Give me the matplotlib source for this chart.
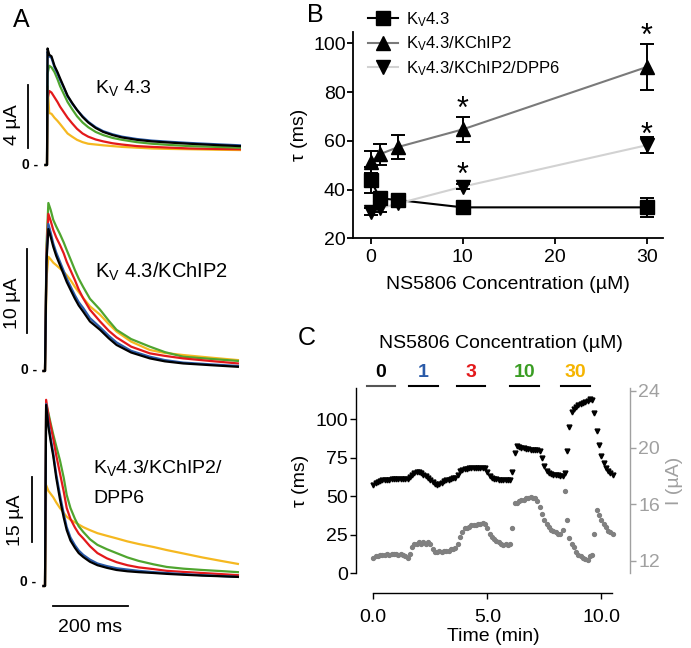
import numpy as np
import matplotlib.pyplot as plt
from matplotlib.lines import Line2D

plt.rcParams['font.family'] = ['Liberation Sans', 'DejaVu Sans']
plt.rcParams['mathtext.fontset'] = 'custom'
plt.rcParams['mathtext.rm'] = 'Liberation Sans'
plt.rcParams['mathtext.it'] = 'Liberation Sans:italic'

W, H = 691, 648

# ---- panel A: current traces (ms, uA) ----
col_black = '#000000'
col_blue = '#2a5aa8'
col_red = '#e3191b'
col_green = '#4fa52f'
col_yellow = '#f5b820'

a1_t = [-4, 0, 1.5, 6, 12, 20, 28, 35, 45, 55, 67, 80, 95, 110, 130, 150, 175, 200,
        240, 280, 330, 380, 450, 515]
a1_black = [0, 0, 7.4, 7.0, 6.9, 6.3, 5.9, 5.5, 4.95, 4.4, 3.95, 3.5, 3.05, 2.7, 2.35,
            2.1, 1.9, 1.75, 1.6, 1.5, 1.42, 1.35, 1.27, 1.2]
a1_blue = [0, 0, 7.2, 6.9, 6.8, 6.2, 5.8, 5.4, 4.9, 4.35, 3.9, 3.5, 3.1, 2.75, 2.4,
           2.15, 1.95, 1.8, 1.65, 1.55, 1.47, 1.4, 1.32, 1.25]
a1_green = [0, 0, 5.8, 6.3, 6.2, 5.9, 5.45, 5.0, 4.5, 4.0, 3.55, 3.1, 2.7, 2.4, 2.1,
            1.9, 1.72, 1.6, 1.45, 1.35, 1.27, 1.2, 1.15, 1.1]
a1_red = [0, 0, 4.2, 4.7, 4.6, 4.3, 4.0, 3.7, 3.35, 3.0, 2.65, 2.3, 2.0, 1.8, 1.62,
          1.5, 1.38, 1.3, 1.2, 1.15, 1.1, 1.05, 1.02, 1.0]
a1_yellow = [0, 0, 5.0, 3.3, 3.25, 3.0, 2.8, 2.6, 2.3, 2.0, 1.8, 1.6, 1.45, 1.35, 1.3,
             1.25, 1.2, 1.15, 1.1, 1.05, 1.02, 1.0, 0.97, 0.95]

a2_t = [-4, 0, 4, 9, 15, 22, 30, 40, 50, 58, 70, 80, 90, 102, 120, 147, 170, 191,
        230, 280, 320, 369, 440, 515]
a2_green = [0, 0, 15, 20.0, 19.2, 18.0, 17.2, 16.3, 15.3, 14.4, 13.1, 12.0, 11.0, 10.0,
            8.6, 7.3, 6.0, 4.9, 3.8, 2.9, 2.25, 1.7, 1.45, 1.2]
a2_red = [0, 0, 14, 18.7, 17.9, 16.8, 15.9, 15.0, 14.0, 13.0, 11.8, 10.8, 9.7, 8.65,
          7.3, 5.9, 4.8, 4.0, 2.9, 2.1, 1.8, 1.5, 1.2, 0.9]
a2_blue = [0, 0, 13.5, 17.5, 16.5, 15.2, 14.1, 13.0, 11.9, 11.0, 9.9, 9.0, 8.2, 7.5,
           6.3, 5.2, 4.2, 3.4, 2.4, 1.7, 1.3, 1.0, 0.8, 0.6]
a2_black = [0, 0, 13, 16.9, 16.0, 14.8, 13.7, 12.6, 11.5, 10.6, 9.5, 8.6, 7.8, 7.06,
            5.9, 4.9, 3.9, 3.1, 2.2, 1.5, 1.15, 0.9, 0.7, 0.5]
a2_yellow = [0, 0, 11, 13.6, 13.3, 12.9, 12.6, 12.2, 11.8, 11.4, 10.7, 10.0, 9.4, 8.7,
             7.7, 6.7, 5.6, 4.7, 3.5, 2.5, 2.15, 1.9, 1.6, 1.3]

a3_t = [-4, 0, 3, 9, 15, 22, 30, 40, 50, 58, 68, 80, 90, 102, 120, 140, 165, 191,
        220, 250, 290, 325, 370, 420, 470, 515]
a3_black = [0, 0, 41.8, 36.8, 33.5, 30, 25, 20, 15.8, 12.9, 10.5, 8.8, 7.6, 6.7, 5.6,
            4.8, 4.2, 3.7, 3.4, 3.2, 3.0, 2.8, 2.6, 2.4, 2.25, 2.1]
a3_blue = [0, 0, 42, 37.5, 34.2, 30.7, 25.8, 21, 16.7, 13.6, 11.2, 9.4, 8.2, 7.2, 6.1,
           5.2, 4.6, 4.1, 3.8, 3.5, 3.2, 3.0, 2.75, 2.5, 2.3, 2.1]
a3_red = [0, 0, 43, 39.5, 37, 34, 30.2, 26, 21.8, 18, 15.5, 13.5, 12.1, 11, 9.2, 7.6,
          6.4, 5.5, 4.8, 4.3, 3.9, 3.5, 3.25, 3.0, 2.75, 2.5]
a3_green = [0, 0, 42, 40, 37.6, 35, 32.3, 29, 25, 21, 18, 15.5, 13.8, 12.5, 10.8, 9.5,
            8.5, 7.6, 6.6, 5.8, 5.0, 4.4, 4.0, 3.7, 3.45, 3.2]
a3_yellow = [0, 0, 23.3, 22, 21.3, 20.5, 19.3, 18, 16.9, 16, 15.3, 14.7, 14.2, 13.6,
             12.9, 12.2, 11.6, 11, 10.3, 9.7, 9.0, 8.3, 7.5, 6.6, 5.8, 5.1]

# ---- panel B: tau vs NS5806 ----
conc = [0, 1, 3, 10, 30]
kv43_tau = [43.9, 36.4, 35.7, 32.7, 32.7]
kv43_err = [5.5, 1.5, 1.5, 0.8, 4.0]
kchip_tau = [51.4, 54.5, 57.5, 64.7, 90.3]
kchip_err = [4.5, 4.3, 5.0, 5.2, 9.6]
dpp6_tau = [30.9, 32.3, 34.3, 41.2, 58.2]
dpp6_err = [1.5, 1.5, 1.5, 1.0, 3.3]
star_x = [10, 30, 10, 30]
star_y = [72.6, 102.6, 45.8, 62.1]

# ---- panel C: time course ----
time_c = np.linspace(0, 10.5, 106)
tau_c = [57.5, 58.5, 59.2, 59.8, 60.2, 60.5, 60.7, 60.8, 60.9, 61.0,
         61.0, 61.0, 61.1, 61.0, 61.0, 61.2, 62.5, 64.0, 65.2, 65.8,
         65.6, 64.8, 63.8, 62.8, 61.9, 60.8, 59.5, 58.2, 57.3, 57.8,
         58.8, 59.7, 60.3, 60.8, 61.2, 61.5, 61.7, 63.5, 66.5, 67.3,
         67.6, 67.8, 68.0, 68.0, 68.2, 68.3, 68.4, 68.5, 68.6, 68.2,
         65.5, 63.2, 62.0, 61.4, 61.0, 60.8, 60.7, 60.6, 60.6, 60.6,
         60.7, 66.0, 77.9, 82.5, 81.8, 81.2, 81.0, 80.7, 80.5, 80.3,
         80.2, 80.0, 79.9, 79.5, 74.7, 69.5, 66.5, 65.2, 64.5, 64.0,
         63.7, 63.5, 63.3, 63.2, 65.0, 79.6, 95.0, 104.5, 106.5, 108.0,
         109.0, 109.8, 110.5, 111.2, 112.0, 112.8, 112.5, 104.0, 92.0, 83.0,
         76.0, 71.5, 68.5, 66.5, 64.8, 63.8]
cur_c = [12.2, 12.3, 12.3, 12.4, 12.4, 12.4, 12.5, 12.4, 12.5, 12.5,
         12.5, 12.4, 12.5, 12.4, 12.3, 12.2, 12.5, 13.0, 13.2, 13.2,
         13.3, 13.2, 13.3, 13.2, 13.3, 13.2, 12.8, 12.6, 12.6, 12.7,
         12.6, 12.7, 12.7, 12.7, 12.8, 12.8, 12.9, 13.2, 13.7, 14.0,
         14.3, 14.3, 14.4, 14.5, 14.5, 14.5, 14.6, 14.6, 14.7, 14.6,
         14.3, 13.9, 13.7, 13.5, 13.4, 13.3, 13.2, 13.1, 13.2, 13.1,
         13.2, 14.3, 16.1, 16.1, 16.2, 16.3, 16.3, 16.4, 16.4, 16.5,
         16.4, 16.4, 16.2, 15.8, 15.3, 14.9, 14.6, 14.4, 14.2, 14.1,
         14.0, 13.9, 13.9, 14.2, 16.9, 14.9, 13.6, 13.2, 12.95, 12.6,
         12.4, 12.3, 12.2, 12.1, 12.05, 12.3, 12.4, 13.9, 15.6, 15.2,
         14.9, 14.6, 14.4, 14.1, 14.0, 13.9]
conc_lab = ['0', '1', '3', '10', '30']
conc_start = [-0.29, 1.56, 3.66, 6.0, 8.23]
conc_end = [0.95, 2.82, 4.9, 7.27, 9.5]
conc_col = ['#000000', col_blue, col_red, '#3a9d23', '#f5b400']
bar_col = ['#555555', 'k', 'k', 'k', 'k']

fig = plt.figure(figsize=(W / 100, H / 100), dpi=100)


def px_axes(l, t, r, b):
    return fig.add_axes([l / W, 1 - b / H, (r - l) / W, (b - t) / H])


def ftext(x, y, s, **kw):
    fig.text(x / W, 1 - y / H, s, **kw)


MS_PX = 2.67  # ms per pixel in panel A


def trace_axes(box, zero, ua_px):
    l, t, r, b = box
    ax = px_axes(l, t, r, b)
    ax.set_xlim((l - zero[0]) * MS_PX, (r - zero[0]) * MS_PX)
    ax.set_ylim((zero[1] - b) / ua_px, (zero[1] - t) / ua_px)
    ax.axis('off')
    return ax


def draw_traces(ax, t, traces):
    for y, c in traces:
        ax.plot(t, y, color=c, lw=1.6, solid_joinstyle='round')


# A top
ax1 = trace_axes((0, 35, 250, 190), (47, 165), 15.75)
draw_traces(ax1, a1_t, [(a1_yellow, col_yellow), (a1_red, col_red), (a1_green, col_green),
                        (a1_blue, col_blue), (a1_black, col_black)])
ax1.plot([-50.7, -50.7], [1.08, 5.08], color='k', lw=1.3, clip_on=False)
ax1.text(-93, 2.54, '4 µA', rotation=90, ha='center', va='center', fontsize=14)
ax1.text(-24, 0, '0 -', ha='right', va='center', fontsize=10, fontweight='bold')
ax1.text(128, 4.9, r'K$_\mathrm{V}$ 4.3', ha='left', va='center', fontsize=14)

# A middle
ax2 = trace_axes((0, 195, 250, 385), (45, 371), 8.4)
draw_traces(ax2, a2_t, [(a2_yellow, col_yellow), (a2_green, col_green), (a2_red, col_red),
                        (a2_blue, col_blue), (a2_black, col_black)])
ax2.plot([-48, -48], [4.52, 14.52], color='k', lw=1.3, clip_on=False)
ax2.text(-88, 8.1, '10 µA', rotation=90, ha='center', va='center', fontsize=14)
ax2.text(-22, 0.1, '0 -', ha='right', va='center', fontsize=10, fontweight='bold')
ax2.text(133.5, 11.8, r'K$_\mathrm{V}$ 4.3/KChIP2', ha='left', va='center', fontsize=14.5)

# A bottom
ax3 = trace_axes((0, 390, 250, 645), (45, 586), 4.33)
draw_traces(ax3, a3_t, [(a3_yellow, col_yellow), (a3_green, col_green), (a3_red, col_red),
                        (a3_blue, col_blue), (a3_black, col_black)])
ax3.plot([-34.7, -34.7], [10.2, 25.2], color='k', lw=1.3, clip_on=False)
ax3.text(-80, 15.2, '15 µA', rotation=90, ha='center', va='center', fontsize=14)
ax3.text(-24, 0.9, '0 -', ha='right', va='center', fontsize=10, fontweight='bold')
ax3.plot([21.4, 221.6], [-4.6, -4.6], color='k', lw=1.3, clip_on=False)
ax3.text(120, -9.5, '200 ms', ha='center', va='center', fontsize=14)
ax3.text(128, 27.2, r'K$_\mathrm{V}$4.3/KChIP2/', ha='left', va='center', fontsize=14)
ax3.text(128, 20.3, 'DPP6', ha='left', va='center', fontsize=14)

# ---- B ----
axb = px_axes(352.7, 31.7, 663.3, 238.3)
axb.set_xlim(-1.96, 31.8)
axb.set_ylim(20, 104.8)
for s in ['top', 'right']:
    axb.spines[s].set_visible(False)
for s in ['left', 'bottom']:
    axb.spines[s].set_linewidth(1.3)
axb.tick_params(direction='out', length=4, width=1.3, labelsize=14, pad=1)
axb.tick_params(axis='x', pad=4)
axb.set_xticks([0, 10, 20, 30])
axb.set_yticks([20, 40, 60, 80, 100])

series = [
    (kv43_tau, kv43_err, 's', 'k', r'K$_\mathrm{V}$4.3'),
    (kchip_tau, kchip_err, '^', '#7a7a7a', r'K$_\mathrm{V}$4.3/KChIP2'),
    (dpp6_tau, dpp6_err, 'v', '#d2d2d2', r'K$_\mathrm{V}$4.3/KChIP2/DPP6'),
]
handles = []
for tau, err, mk, lc, lab in series:
    axb.plot(conc, tau, color=lc, lw=1.5, zorder=1)
for tau, err, mk, lc, lab in series:
    axb.errorbar(conc, tau, yerr=err, fmt='none', ecolor='k', elinewidth=1.4,
                 capsize=5, capthick=1.4, zorder=2)
    axb.plot(conc, tau, ls='none', marker=mk, ms=10, color='k', zorder=3, clip_on=False)
    handles.append(Line2D([], [], color=lc, lw=1.5, marker=mk, ms=10,
                          mfc='k', mec='k', label=lab))
for x, y in zip(star_x, star_y):
    axb.text(x, y, '*', ha='center', va='center', fontsize=22, clip_on=False)
axb.legend(handles=handles, loc='upper left', bbox_to_anchor=(368 / W, 1 - 10 / H),
           bbox_transform=fig.transFigure, frameon=False, fontsize=12,
           handlelength=1.8, handletextpad=0.5, labelspacing=0.35,
           borderpad=0, borderaxespad=0)
axb.set_xlabel('NS5806 Concentration (µM)', fontsize=14, labelpad=7)
axb.set_ylabel('τ (ms)', fontsize=14, labelpad=4)

# ---- C ----
gray_ax = '#a0a0a0'
axc = px_axes(356, 388.3, 630, 573.3)
axc.set_xlim(-0.759, 11.259)
axc.set_ylim(0, 120)
axc.spines['top'].set_visible(False)
axc.spines['right'].set_visible(False)
axc.spines['bottom'].set_position(('outward', 14.4))
axc.spines['bottom'].set_bounds(0, 10.48)
for s in ['left', 'bottom']:
    axc.spines[s].set_linewidth(1.0)
axc.tick_params(direction='out', length=4, width=1.0, labelsize=14, pad=2)
axc.tick_params(axis='x', pad=7)
axc.set_xticks([0, 5, 10])
axc.set_xticklabels(['0.0', '5.0', '10.0'])
axc.set_yticks([0, 25, 50, 75, 100])
axc.plot(time_c, tau_c, ls='none', marker='v', ms=3.5, color='k', zorder=3)
axc.set_xlabel('Time (min)', fontsize=14, labelpad=2)
axc.set_ylabel('τ (ms)', fontsize=14, labelpad=4)

axi = axc.twinx()
axi.set_ylim(11.11, 24.19)
for s in ['top', 'left', 'bottom']:
    axi.spines[s].set_visible(False)
axi.spines['right'].set_color(gray_ax)
axi.spines['right'].set_linewidth(1.0)
axi.tick_params(direction='out', length=4, width=1.0, labelsize=14, pad=2,
                colors=gray_ax)
axi.set_yticks([12, 16, 20, 24])
axi.plot(time_c, cur_c, ls='none', marker='o', ms=2.8, color='#808080', zorder=2)
axi.set_ylabel('I (µA)', fontsize=14, color=gray_ax, labelpad=4)

for lab, s, e, c, bc in zip(conc_lab, conc_start, conc_end, conc_col, bar_col):
    axc.plot([s, e], [121.2, 121.2], color=bc, lw=1.5, clip_on=False)
    axc.text((s + e) / 2, 130, lab, color=c, fontsize=14, fontweight='bold',
             ha='center', va='center', clip_on=False)

ftext(501, 343.3, 'NS5806 Concentration (µM)', ha='center', va='center', fontsize=14)

# panel letters
ftext(21.7, 20, 'A', ha='center', va='center', fontsize=18)
ftext(315, 15, 'B', ha='center', va='center', fontsize=18)
ftext(306.7, 338, 'C', ha='center', va='center', fontsize=18)

fig.savefig('out.png', dpi=100)
